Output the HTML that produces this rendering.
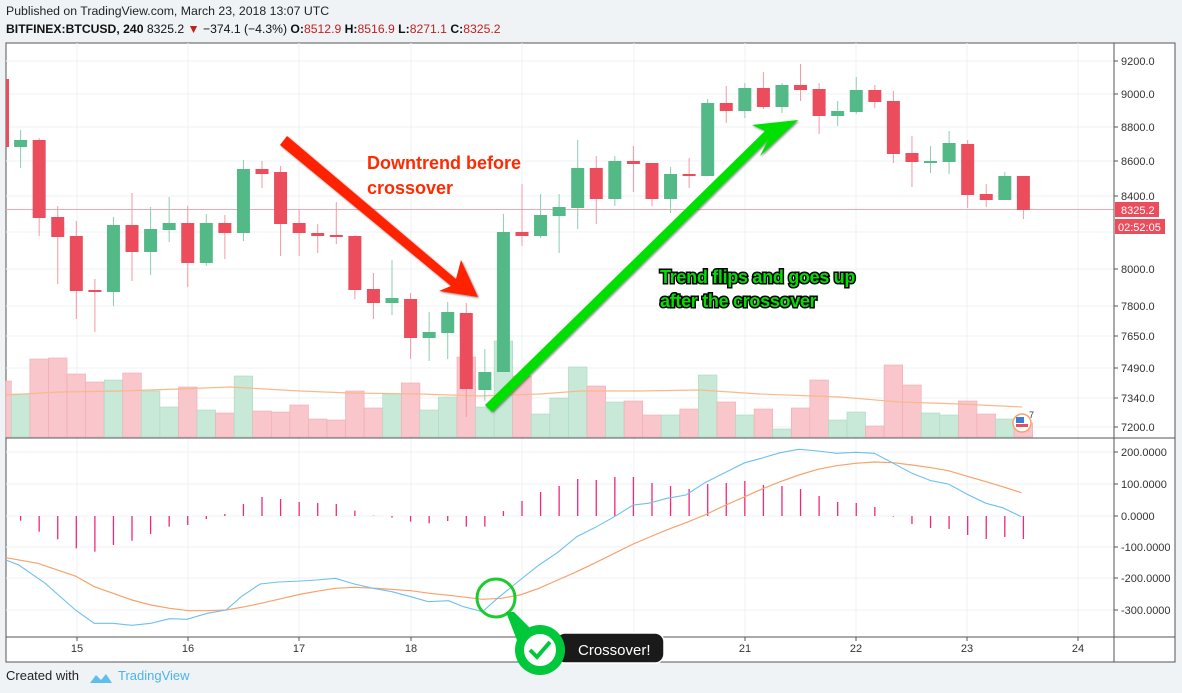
<!DOCTYPE html>
<html><head><meta charset="utf-8">
<style>
html,body{margin:0;padding:0;background:#f0f3f6;}
body{width:1182px;height:693px;overflow:hidden;position:relative;font-family:"Liberation Sans",sans-serif;}
.h1{position:absolute;left:6px;top:4px;font-size:12.3px;color:#222;}
.h2{position:absolute;left:6px;top:22px;font-size:12.2px;color:#111;}
.h2 b{font-weight:bold}
.r{color:#c0201f}
svg{position:absolute;left:0;top:0}
</style></head><body>
<div class="h1">Published on TradingView.com, March 23, 2018 13:07 UTC</div>
<div class="h2"><b>BITFINEX:BTCUSD, 240</b> 8325.2 <span class="r">▼</span> −374.1 (−4.3%) <b>O:</b><span class="r">8512.9</span> <b>H:</b><span class="r">8516.9</span> <b>L:</b><span class="r">8271.1</span> <b>C:</b><span class="r">8325.2</span></div>
<svg id="s" width="1182" height="693" xmlns="http://www.w3.org/2000/svg" font-family="Liberation Sans, sans-serif"></svg>
<script>
var s=document.getElementById('s');var o='';
function X(i){return 20.6+18.57*i;}
o+='<rect x="6" y="43" width="1169" height="619" fill="#fff" stroke="#555" stroke-width="1"/>';
var hy=[61,94,127,161,196,232,269,306,336,368,398,427];
hy.forEach(function(y){o+='<line x1="6" x2="1114" y1="'+y+'" y2="'+y+'" stroke="#eef1f4"/>';});
[452,484,516,547,578,610].forEach(function(y){o+='<line x1="6" x2="1114" y1="'+y+'" y2="'+y+'" stroke="#eef1f4"/>';});
var dx=[77,188,299,411,522,634,745,856,967,1078];
dx.forEach(function(x){o+='<line x1="'+x+'" x2="'+x+'" y1="43" y2="637" stroke="#eef2f6"/>';});
var vol=[[-1,'r',381],[0,'g',394],[1,'r',359],[2,'r',358],[3,'r',374],[4,'r',382],[5,'g',380],[6,'r',373],[7,'g',391],[8,'g',407],[9,'r',387],[10,'g',410],[11,'r',413],[12,'g',376],[13,'r',411],[14,'r',412],[15,'r',405],[16,'r',419],[17,'r',420],[18,'r',391],[19,'r',408],[20,'g',394],[21,'r',383],[22,'g',410],[23,'g',397],[24,'r',357],[25,'g',407],[26,'g',341],[27,'r',376],[28,'g',414],[29,'g',398],[30,'g',367],[31,'r',386],[32,'g',402],[33,'r',401],[34,'r',415],[35,'g',415],[36,'r',409],[37,'g',375],[38,'r',402],[39,'g',415],[40,'r',409],[41,'g',429],[42,'r',408],[43,'r',380],[44,'g',420],[45,'g',412],[46,'r',426],[47,'r',365],[48,'r',385],[49,'g',413],[50,'g',415],[51,'r',401],[52,'r',414],[53,'g',419],[54,'r',423]];
vol.forEach(function(v){var x=X(v[0])-9.3;if(x<6)x=6;var w=X(v[0])+9.3-x;o+='<rect x="'+x+'" y="'+v[2]+'" width="'+w+'" height="'+(437-v[2])+'" fill="'+(v[1]=='r'?'#f8c6cb':'#c8e8d8')+'" stroke="'+(v[1]=='r'?'#efaab1':'#a9d9c1')+'" stroke-width="0.6"/>';});
o+='<polyline fill="none" stroke="#f9b98c" stroke-width="1.2" points="6,395 60,392 120,391 180,389 230,387 300,391 350,393 420,394 480,396 540,394 580,391 640,391 700,390 760,394 840,397 900,402 960,404 1022,407"/>';
o+='<line x1="6" x2="1114" y1="209.5" y2="209.5" stroke="#f4a7ae"/>';
var cd=[[-1,'r',79,147,79,147],[0,'g',140,147,130,168],[1,'r',140,218,138,236],[2,'r',217,237,206,284],[3,'r',236,291,221,319],[4,'r',290,292,279,332],[5,'g',225,292,217,306],[6,'r',225,252,193,281],[7,'g',229,252,207,275],[8,'g',223,230,197,242],[9,'r',223,263,206,287],[10,'g',223,263,214,266],[11,'r',223,233,215,259],[12,'g',169,233,160,241],[13,'r',169,174,161,188],[14,'r',172,224,166,256],[15,'r',223,233,210,256],[16,'r',233,236,224,253],[17,'r',235,237,202,244],[18,'r',236,290,235,299],[19,'r',289,303,273,319],[20,'g',298,303,260,315],[21,'r',299,338,293,359],[22,'g',332,338,312,361],[23,'g',312,333,302,359],[24,'r',313,389,303,417],[25,'g',372,390,349,401],[26,'g',232,372,214,372],[27,'r',232,236,184,246],[28,'g',215,236,194,238],[29,'g',207,216,194,253],[30,'g',168,208,140,229],[31,'r',168,199,156,224],[32,'g',161,199,156,206],[33,'r',161,164,146,192],[34,'r',163,199,163,206],[35,'g',174,199,167,213],[36,'r',174,176,158,188],[37,'g',103,176,99,176],[38,'r',103,111,86,123],[39,'g',88,111,83,118],[40,'r',88,107,72,109],[41,'g',85,107,83,113],[42,'r',85,90,64,101],[43,'r',89,116,83,134],[44,'g',111,116,101,126],[45,'g',90,112,77,114],[46,'r',90,102,85,108],[47,'r',101,154,91,163],[48,'r',153,162,136,187],[49,'g',161,163,146,173],[50,'g',143,162,131,174],[51,'r',144,195,140,208],[52,'r',194,200,184,207],[53,'g',176,200,172,200],[54,'r',176,210,176,219]];
cd.forEach(function(c){var x=X(c[0]);var col=c[1]=='r'?'#eb4d5c':'#53b987';var wc=c[1]=='r'?'#f19aa3':'#8ccdb0';
if(c[0]<0){o+='<rect x="6" y="'+c[2]+'" width="3" height="'+(c[3]-c[2])+'" fill="'+col+'"/>';return;}
o+='<line x1="'+x+'" x2="'+x+'" y1="'+c[4]+'" y2="'+c[5]+'" stroke="'+wc+'"/>';
o+='<rect x="'+(x-6.5)+'" y="'+c[2]+'" width="13" height="'+Math.max(2,c[3]-c[2])+'" fill="'+col+'"/>';});
o+='<line x1="6" x2="1175" y1="438" y2="438" stroke="#555"/>';
o+='<line x1="6" x2="1175" y1="637" y2="637" stroke="#555"/>';
o+='<line x1="1114" x2="1114" y1="43" y2="662" stroke="#555"/>';
var hv=[242,275,298,325,335,315,302,282,260,255,237,222,192,171,177,186,189,192,212,227,233,245,250,243,260,260,213,183,156,138,117,120,111,111,129,138,147,132,129,123,135,138,147,168,186,189,201,230,252,264,267,285,297,291,297];
hv.forEach(function(v,i){var x=X(i);var y=440+v/3;o+='<line x1="'+x+'" x2="'+x+'" y1="516" y2="'+y+'" stroke="#f0287a" stroke-width="1.3"/>';});
function P(a){return a.map(function(p){return (p[0]/1.3266).toFixed(1)+','+(440+p[1]/3).toFixed(1);}).join(' ');}
var sig=[[8,353],[50,370],[100,408],[125,440],[150,460],[175,480],[200,495],[225,505],[250,512],[275,512],[300,510],[325,500],[350,488],[375,475],[400,462],[425,452],[445,445],[470,442],[500,445],[545,452],[570,460],[600,467],[640,478],[665,475],[690,465],[715,445],[740,420],[765,395],[790,368],[815,340],[840,312],[865,288],[890,265],[910,248],[935,225],[960,198],[988,170],[1010,148],[1035,125],[1060,105],[1085,88],[1110,77],[1135,70],[1160,66],[1185,68],[1210,75],[1235,83],[1258,92],[1285,110],[1308,125],[1330,140],[1355,158]];
var mac=[[8,360],[25,375],[60,430],[100,510],[125,550],[150,550],[175,556],[200,550],[225,536],[248,538],[275,520],[300,510],[320,470],[345,432],[370,426],[400,423],[420,420],[445,415],[470,432],[495,445],[520,455],[545,470],[568,485],[595,482],[615,500],[640,515],[660,475],[690,420],[715,375],[740,337],[765,290],[790,262],[815,230],[840,195],[860,190],[885,175],[910,165],[935,128],[960,100],[988,68],[1010,55],[1035,38],[1060,28],[1085,33],[1110,40],[1135,37],[1160,40],[1185,70],[1210,100],[1235,122],[1258,132],[1285,165],[1308,190],[1330,203],[1355,230]];
o+='<polyline fill="none" stroke="#f7a26b" stroke-width="1.2" points="'+P(sig)+'"/>';
o+='<polyline fill="none" stroke="#6ec0f0" stroke-width="1.1" points="'+P(mac)+'"/>';
var pl=[[61,'9200.0'],[94,'9000.0'],[127,'8800.0'],[161,'8600.0'],[196,'8400.0'],[269,'8000.0'],[306,'7800.0'],[336,'7650.0'],[368,'7490.0'],[398,'7340.0'],[427,'7200.0']];
pl.forEach(function(p){o+='<line x1="1114" x2="1118" y1="'+p[0]+'" y2="'+p[0]+'" stroke="#555"/><text x="1121" y="'+(p[0]+4)+'" font-size="11" fill="#333">'+p[1]+'</text>';});
[[452,'200.0000'],[484,'100.0000'],[516,'0.0000'],[547,'-100.0000'],[578,'-200.0000'],[610,'-300.0000']].forEach(function(p){o+='<line x1="1114" x2="1118" y1="'+p[0]+'" y2="'+p[0]+'" stroke="#555"/><text x="1121" y="'+(p[0]+4)+'" font-size="11" fill="#333">'+p[1]+'</text>';});
o+='<rect x="1115" y="202" width="44" height="15" fill="#eb4d5c"/><text x="1121" y="214" font-size="11" fill="#fff">8325.2</text>';
o+='<rect x="1115" y="219" width="50" height="15" fill="#eb4d5c"/><text x="1118" y="231" font-size="11" fill="#fff">02:52:05</text>';
var dl=['15','16','17','18','19','20','21','22','23','24'];
dx.forEach(function(x,i){o+='<line x1="'+x+'" x2="'+x+'" y1="637" y2="641" stroke="#555"/><text x="'+x+'" y="652" font-size="11" fill="#333" text-anchor="middle">'+dl[i]+'</text>';});
o+='<circle cx="1022" cy="423" r="9" fill="#fff" stroke="#f7a26b" stroke-width="1.5"/><rect x="1016" y="417" width="8" height="6" fill="#3d7bd9"/><rect x="1016" y="424" width="12" height="3" fill="#eb4d5c"/><text x="1029" y="418" font-size="9" fill="#333">7</text>';
o+='<defs><filter id="sh"><feDropShadow dx="1" dy="1" stdDeviation="1" flood-opacity="0.5"/></filter></defs>';
o+='<g filter="url(#sh)"><polygon points="280,145 287,136 456,279 461,260 478,297 439,291 451,286" fill="#ff2200"/>';
o+='<polygon points="485,405 492,412 768,140 760,156 798,120 752,125 765,131" fill="#00e000"/></g>';
o+='<text x="367" y="169" font-size="18" font-weight="bold" fill="#ff2a00" stroke="#fff" stroke-width="3" paint-order="stroke">Downtrend before</text>';
o+='<text x="367" y="194" font-size="18" font-weight="bold" fill="#ff2a00" stroke="#fff" stroke-width="3" paint-order="stroke">crossover</text>';
o+='<text x="660" y="283" font-size="18" font-weight="bold" fill="#00e000" stroke="#000" stroke-width="3" paint-order="stroke" letter-spacing="-0.3">Trend flips and goes up</text>';
o+='<text x="660" y="307" font-size="18" font-weight="bold" fill="#00e000" stroke="#000" stroke-width="3" paint-order="stroke" letter-spacing="-0.3">after the crossover</text>';
o+='<ellipse cx="496" cy="598" rx="19" ry="19" fill="none" stroke="#1ecb2e" stroke-width="3"/>';
o+='<rect x="556" y="633" width="108" height="30" rx="9" fill="#1a1a1a" stroke="#fff" stroke-width="1.5"/><text x="578" y="655" font-size="15" fill="#fff">Crossover!</text>';
o+='<polygon points="506,612 514,612 542,640 520,648" fill="#00c83a"/>';
o+='<circle cx="540" cy="650" r="25" fill="#00c83a"/><circle cx="540" cy="650" r="17" fill="#fff" stroke="#00c83a" stroke-width="2"/><polyline points="530,650 537,657 550,642" fill="none" stroke="#00c83a" stroke-width="4"/>';
o+='<text x="6" y="680" font-size="13" fill="#222">Created with</text>';
o+='<path d="M90,683 l6,-8 l5,5 l5,-6 l6,9 z" fill="#5cc0ea"/>';
o+='<text x="118" y="680" font-size="13" fill="#4bb3e8">TradingView</text>';
s.innerHTML=o;
</script>
</body></html>
